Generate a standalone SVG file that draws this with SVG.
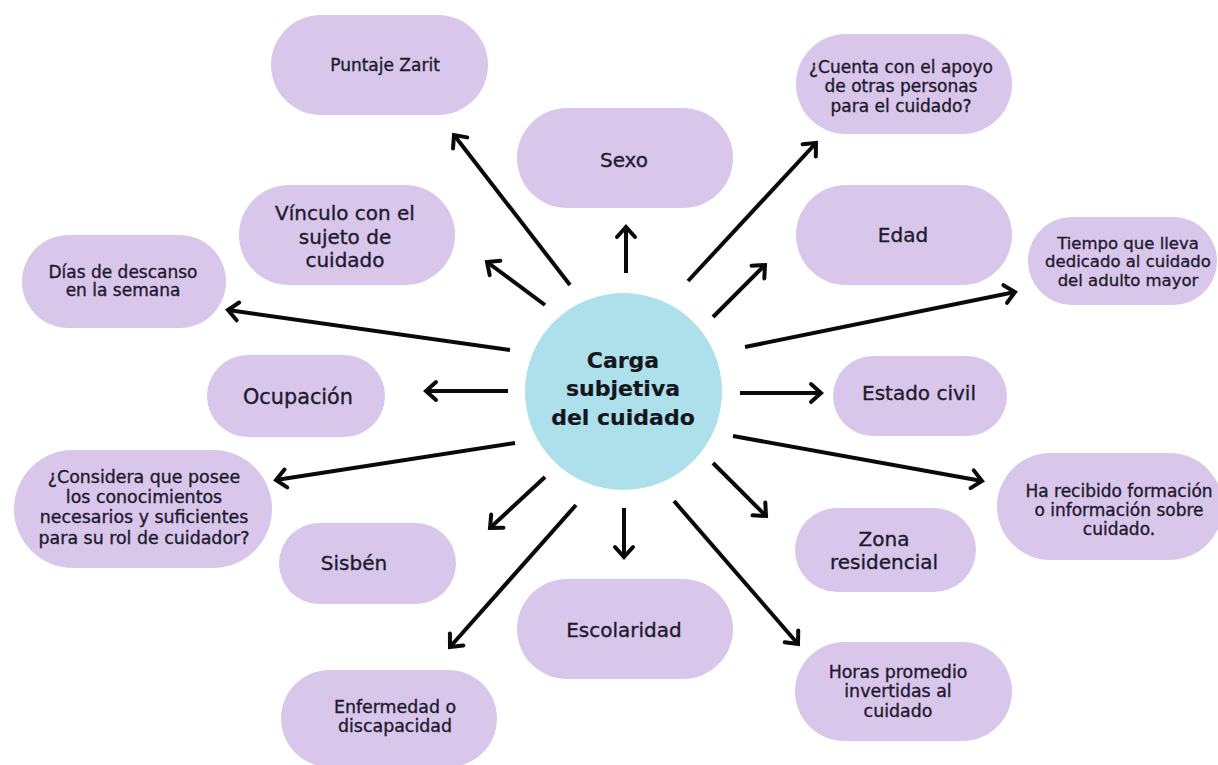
<svg xmlns="http://www.w3.org/2000/svg" width="1218" height="765" viewBox="0 0 1218 765">
  <style>
    .node rect { fill: #d8c6eb; }
    .hub circle { fill: #ade0eb; }
    text { font-family: "DejaVu Sans", "Liberation Sans", sans-serif; fill: #1f1a2e; stroke: #1f1a2e; stroke-width: 0.35px; text-anchor: middle; }
    .lg { font-size: 20px; }
    .sm { font-size: 17px; }
    .hub text { font-size: 22px; font-weight: bold; fill: #14161c; stroke: #14161c; stroke-width: 0.2px; }
    .links line { stroke: #0a0a0a; stroke-width: 4; marker-end: url(#head); }
  </style>
  <defs>
    <marker id="head" viewBox="-15 -15 30 30" refX="0" refY="0" markerWidth="30" markerHeight="30" orient="auto" markerUnits="userSpaceOnUse" overflow="visible">
      <path d="M-10,-9 L0,0 L-10,9" fill="none" stroke="#0a0a0a" stroke-width="4" stroke-linejoin="miter" stroke-linecap="round"/>
    </marker>
  </defs>
  <rect width="1218" height="765" fill="#ffffff"/>

  <!-- connectors radiating from the hub -->
  <g id="connectors" class="links">
    <line x1="570" y1="285" x2="454" y2="135"/>
    <line x1="626" y1="273" x2="626" y2="227"/>
    <line x1="688" y1="281" x2="816" y2="143"/>
    <line x1="713" y1="317" x2="765" y2="265"/>
    <line x1="745" y1="347" x2="1015" y2="292"/>
    <line x1="740" y1="393" x2="821" y2="393"/>
    <line x1="733" y1="436" x2="982" y2="481"/>
    <line x1="713" y1="463" x2="766" y2="516"/>
    <line x1="674" y1="501" x2="798" y2="644"/>
    <line x1="624" y1="508" x2="624" y2="557"/>
    <line x1="576" y1="505" x2="450" y2="647"/>
    <line x1="545" y1="477" x2="490" y2="528"/>
    <line x1="515" y1="443" x2="276" y2="480"/>
    <line x1="508" y1="391" x2="426" y2="391"/>
    <line x1="510" y1="350" x2="228" y2="310"/>
    <line x1="545" y1="305" x2="487" y2="262"/>
  </g>

  <g id="hub" class="hub">
    <circle cx="623.5" cy="391.5" r="98.5"/>
    <text x="623" y="368">Carga</text>
    <text x="623" y="396">subjetiva</text>
    <text x="623" y="425">del cuidado</text>
  </g>

  <g id="puntaje-zarit" class="node">
    <rect x="271" y="15" width="217" height="100" rx="50"/>
    <text class="sm" x="385" y="71">Puntaje Zarit</text>
  </g>

  <g id="sexo" class="node">
    <rect x="517" y="108" width="216" height="100" rx="50"/>
    <text class="lg" x="624" y="167">Sexo</text>
  </g>

  <g id="vinculo" class="node">
    <rect x="239" y="185" width="216" height="100" rx="50"/>
    <text class="lg" x="345" y="220">Vínculo con el</text>
    <text class="lg" x="345" y="244">sujeto de</text>
    <text class="lg" x="345" y="267">cuidado</text>
  </g>

  <g id="dias-descanso" class="node">
    <rect x="22" y="235" width="204" height="93" rx="46.5"/>
    <text class="sm" x="123" y="278">Días de descanso</text>
    <text class="sm" x="123" y="296">en la semana</text>
  </g>

  <g id="ocupacion" class="node">
    <rect x="207" y="355" width="178" height="82" rx="41"/>
    <text class="lg" x="298" y="404" style="font-size:20.8px">Ocupación</text>
  </g>

  <g id="apoyo" class="node">
    <rect x="796" y="34" width="216" height="100" rx="50"/>
    <text class="sm" x="901" y="73">¿Cuenta con el apoyo</text>
    <text class="sm" x="901" y="92">de otras personas</text>
    <text class="sm" x="901" y="112">para el cuidado?</text>
  </g>

  <g id="edad" class="node">
    <rect x="796" y="185" width="216" height="100" rx="50"/>
    <text class="lg" x="903" y="242">Edad</text>
  </g>

  <g id="tiempo" class="node">
    <rect x="1028" y="217" width="189" height="88" rx="44"/>
    <text class="sm" x="1128" y="249" style="font-size:16.5px">Tiempo que lleva</text>
    <text class="sm" x="1128" y="267" style="font-size:16.5px">dedicado al cuidado</text>
    <text class="sm" x="1128" y="286" style="font-size:16.5px">del adulto mayor</text>
  </g>

  <g id="estado-civil" class="node">
    <rect x="833" y="356" width="174" height="80" rx="40"/>
    <text class="lg" x="919" y="400">Estado civil</text>
  </g>

  <g id="formacion" class="node">
    <rect x="997" y="453" width="226" height="107" rx="53.5"/>
    <text class="sm" x="1119" y="497" style="font-size:17px">Ha recibido formación</text>
    <text class="sm" x="1119" y="516" style="font-size:17px">o información sobre</text>
    <text class="sm" x="1119" y="535" style="font-size:17px">cuidado.</text>
  </g>

  <g id="zona" class="node">
    <rect x="795" y="508" width="181" height="84" rx="42"/>
    <text class="lg" x="884" y="546">Zona</text>
    <text class="lg" x="884" y="569">residencial</text>
  </g>

  <g id="conocimientos" class="node">
    <rect x="14" y="450" width="258" height="118" rx="59"/>
    <text class="sm" x="144" y="483" style="font-size:17.4px">¿Considera que posee</text>
    <text class="sm" x="144" y="503" style="font-size:17.4px">los conocimientos</text>
    <text class="sm" x="144" y="523" style="font-size:17.4px">necesarios y suficientes</text>
    <text class="sm" x="144" y="544" style="font-size:17.4px">para su rol de cuidador?</text>
  </g>

  <g id="sisben" class="node">
    <rect x="279" y="523" width="177" height="81" rx="40.5"/>
    <text class="lg" x="354" y="570">Sisbén</text>
  </g>

  <g id="enfermedad" class="node">
    <rect x="281" y="670" width="216" height="97" rx="48.5"/>
    <text class="sm" x="395" y="713" style="font-size:17.4px">Enfermedad o</text>
    <text class="sm" x="395" y="732" style="font-size:17.4px">discapacidad</text>
  </g>

  <g id="escolaridad" class="node">
    <rect x="517" y="579" width="216" height="100" rx="50"/>
    <text class="lg" x="624" y="637">Escolaridad</text>
  </g>

  <g id="horas" class="node">
    <rect x="795" y="642" width="217" height="99" rx="49.5"/>
    <text class="sm" x="898" y="678" style="font-size:17.4px">Horas promedio</text>
    <text class="sm" x="898" y="697" style="font-size:17.4px">invertidas al</text>
    <text class="sm" x="898" y="717" style="font-size:17.4px">cuidado</text>
  </g>
</svg>
